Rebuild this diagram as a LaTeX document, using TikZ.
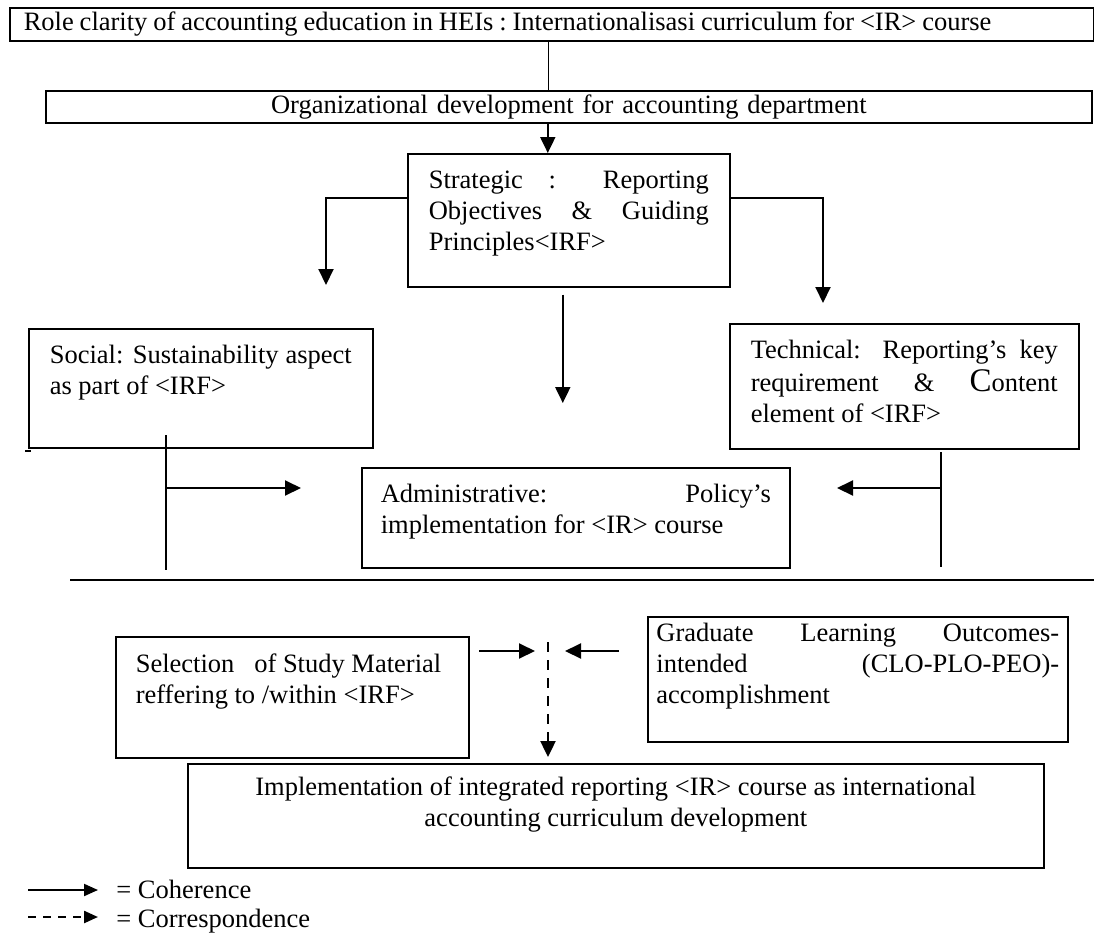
\documentclass[tikz,border=0pt]{standalone}
\usepackage{fontspec}
\setmainfont{Liberation Serif}
\usetikzlibrary{arrows.meta,positioning,calc}
\newcommand{\jline}[1]{\makebox[\linewidth][s]{#1}}
\newcommand{\boxtext}[3]{\parbox[c][#2][t]{#1}{\strut#3}}

\begin{document}
\begin{tikzpicture}[
  x=0.5pt,y=-0.5pt,
  font=\fontsize{13.25}{15.5}\selectfont,
  box/.style={draw,line width=0.8pt,anchor=north west},
  arr/.style={-{Triangle[length=8pt,width=7.5pt]},line width=1pt},
  dasharr/.style={arr,line width=1.2pt,dash pattern=on 5pt off 4pt},
  keyarr/.style={-{Triangle[length=7pt,width=6pt]},line width=1pt},
  thinline/.style={line width=0.6pt},
  legend/.style={anchor=base west,inner sep=0pt},
]
\useasboundingbox (0,0) rectangle (1094,938);

\node[box,text width=528pt,align=left,inner xsep=7pt,inner ysep=0pt,minimum height=16.5pt] (role) at (9,7) {\spaceskip=2.95pt plus 1pt minus 0.5pt\xspaceskip=2.95pt plus 1pt Role clarity of accounting education in HEIs : Internationalisasi curriculum for <IR> course};
\node[box,text width=509pt,align=center,inner xsep=7pt,inner ysep=0pt,minimum height=16pt] (org) at (45,90) {Organizational development for accounting department};

\node[box,inner xsep=10.5pt,inner ysep=6.65pt] (strat) at (407,153) {\boxtext{140pt}{53.2pt}{\jline{Strategic : Reporting}\\\jline{Objectives \& Guiding}\\Principles<IRF>}};
\node[box,inner xsep=10.5pt,inner ysep=6.65pt] (social) at (28,328) {\boxtext{151pt}{46.2pt}{\jline{Social: Sustainability aspect}\\as part of <IRF>}};
\node[box,inner xsep=10.5pt,inner ysep=6.65pt] (tech) at (729,323) {\boxtext{153.5pt}{49.2pt}{\jline{Technical: Reporting’s key}\\\jline{requirement \& {\fontsize{16.5}{15.5}\selectfont C}ontent}\\element of <IRF>}};
\node[box,inner xsep=9.5pt,inner ysep=6.65pt] (admin) at (361,467) {\boxtext{195pt}{36.7pt}{\jline{Administrative: Policy’s}\\implementation for <IR> course}};

\node[box,inner xsep=10pt,inner ysep=7.15pt] (select) at (115,636) {\boxtext{156.5pt}{46.2pt}{Selection\ \ \ of Study Material\\reffering to /within <IRF>}};
\node[box,inner xsep=4.3pt,inner ysep=1.65pt] (grad) at (647,616) {\boxtext{201.4pt}{59.2pt}{\jline{Graduate Learning Outcomes-}\\\jline{intended (CLO-PLO-PEO)-}\\accomplishment}};
\node[box,inner xsep=10pt,inner ysep=5.15pt] (impl) at (187,763) {\boxtext{408pt}{41.7pt}{\centering Implementation of integrated reporting <IR> course as international\\accounting curriculum development}};

\coordinate (sleft) at (326,285);
\coordinate (sright) at (823,303);
\coordinate (smid) at ([xshift=-3pt,yshift=-3.5pt]strat.south);
\coordinate (amid) at (smid |- 0,403);
\coordinate (lvtop) at (166,435);
\coordinate (lvbot) at (166,570);
\coordinate (ltip) at (301,488);
\coordinate (rvtop) at (941,452);
\coordinate (rvbot) at (941,567);
\coordinate (rtip) at (837,488);
\coordinate (hl1) at (70,580);
\coordinate (hl2) at (1094,580);
\coordinate (selA) at (479,651);
\coordinate (selB) at (535,651);
\coordinate (gradA) at (619,651);
\coordinate (gradB) at (565,651);
\coordinate (mtop) at (548,642);

\draw[thinline] ([xshift=-1.5pt]role.south) -- ([xshift=-1.5pt]role.south |- org.north);
\draw[arr] ([xshift=-10.5pt]org.south) -- ([xshift=-10.5pt]strat.north);
\draw[arr] ([yshift=11pt]strat.west) -| (sleft);
\draw[arr] ([yshift=11pt]strat.east) -| (sright);
\draw[arr] (smid) -- (amid);

\draw[thinline] (lvtop) -- (lvbot);
\draw[arr] (ltip -| lvtop) -- (ltip);
\draw[thinline] (rvtop) -- (rvbot);
\draw[arr] (rtip -| rvtop) -- (rtip);
\draw[line width=1pt] (hl1) -- (hl2);
\draw[thinline] (25,451) -- (31,451);

\draw[arr] (selA) -- (selB);
\draw[arr] (gradA) -- (gradB);
\draw[dasharr,shorten >=3pt] (mtop) -- (mtop |- impl.north);

\coordinate (cohA) at (28,890);
\coordinate (cohB) at (98,890);
\coordinate (corA) at (28,917);
\coordinate (corB) at (98,917);
\draw[keyarr] (cohA) -- (cohB);
\draw[keyarr,line width=1.2pt,dash pattern=on 4pt off 3.5pt] (corA) -- (corB);
\node[legend] (coh) at (116,898) {= Coherence};
\node[legend] (cor) at (116,927) {= Correspondence};

\end{tikzpicture}
\end{document}
